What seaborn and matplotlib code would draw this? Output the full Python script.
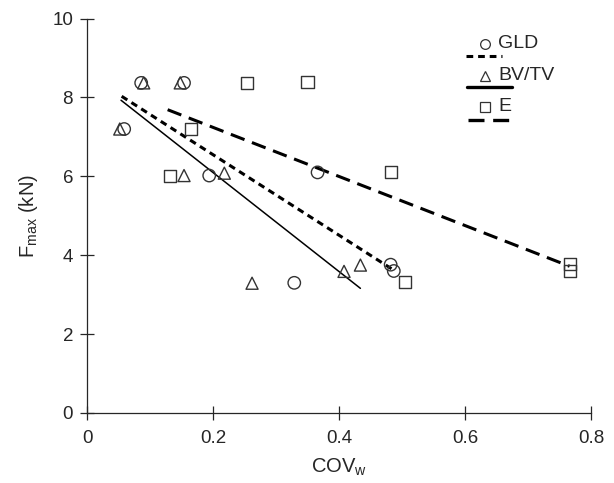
# Fmax vs COV_w scatter with three fitted lines (GLD, BV/TV, E)

import pandas as pd
import numpy as np
import matplotlib
matplotlib.use("Agg")
import matplotlib.pyplot as plt
import seaborn as sns

# -------------------------------------------------------
# DATA
# -------------------------------------------------------

gld_x = [0.086, 0.154, 0.059, 0.194, 0.366, 0.329, 0.482, 0.487]
gld_y = [8.37, 8.37, 7.20, 6.02, 6.10, 3.30, 3.76, 3.60]

bvtv_x = [0.090, 0.148, 0.052, 0.154, 0.218, 0.262, 0.408, 0.434]
bvtv_y = [8.37, 8.37, 7.20, 6.02, 6.08, 3.29, 3.59, 3.75]

e_x = [0.254, 0.350, 0.165, 0.131, 0.482, 0.505, 0.766, 0.766]
e_y = [8.37, 8.38, 7.20, 6.02, 6.10, 3.32, 3.78, 3.60]

# end points of the regression lines
gld_fit_x = [0.055, 0.486]
gld_fit_y = [8.03, 3.63]
bvtv_fit_x = [0.054, 0.434]
bvtv_fit_y = [7.93, 3.16]
e_fit_x = [0.128, 0.766]
e_fit_y = [7.69, 3.72]

x_ticks = [0, 0.2, 0.4, 0.6, 0.8]
x_tick_labels = ["0", "0.2", "0.4", "0.6", "0.8"]
y_ticks = [0, 2, 4, 6, 8, 10]

# -------------------------------------------------------
# STYLE
# -------------------------------------------------------

sns.set_style("ticks")
plt.rcParams["font.family"] = ["Liberation Sans", "DejaVu Sans"]
plt.rcParams["mathtext.fontset"] = "custom"
plt.rcParams["mathtext.rm"] = "Liberation Sans"

fig = plt.figure(figsize=(6.14, 4.83), dpi=100)
ax = fig.add_axes([0.1417, 0.145, 0.8208, 0.8165])

# -------------------------------------------------------
# LINES
# -------------------------------------------------------

sns.lineplot(x=gld_fit_x, y=gld_fit_y, ax=ax, color="black", lw=2.2)
ax.lines[-1].set_dashes((2.2, 1.6))
sns.lineplot(x=bvtv_fit_x, y=bvtv_fit_y, ax=ax, color="black", lw=1.1)
sns.lineplot(x=e_fit_x, y=e_fit_y, ax=ax, color="black", lw=2.2)
ax.lines[-1].set_dashes((4.8, 2.6))

# -------------------------------------------------------
# POINTS
# -------------------------------------------------------

pt_kw = dict(ax=ax, facecolor="none", edgecolor="#333333", linewidth=1.0, zorder=3)
sns.scatterplot(x=gld_x, y=gld_y, marker="o", s=80, **pt_kw)
sns.scatterplot(x=bvtv_x, y=bvtv_y, marker="^", s=75, **pt_kw)
sns.scatterplot(x=e_x, y=e_y, marker="s", s=75, **pt_kw)

# -------------------------------------------------------
# AXES
# -------------------------------------------------------

ax.set_xlim(0, 0.8)
ax.set_ylim(0, 10)
ax.set_xticks(x_ticks)
ax.set_xticklabels(x_tick_labels)
ax.set_yticks(y_ticks)
ax.tick_params(direction="inout", length=10, width=0.9, labelsize=13.5)
ax.tick_params(axis="x", pad=7)
ax.tick_params(axis="y", pad=5)
for side in ["left", "bottom"]:
    ax.spines[side].set_linewidth(0.9)
sns.despine(ax=ax)

ax.set_xlabel(r"COV$_\mathregular{w}$", fontsize=14.5, labelpad=7)
ax.set_ylabel(r"F$_\mathregular{max}$ (kN)", fontsize=14.5, labelpad=9)

# -------------------------------------------------------
# LEGEND (marker + label, line sample underneath)
# -------------------------------------------------------

t = ax.transAxes
def px(xp, yp):
    # figure pixel -> axes fraction
    return ((xp - 87) / 504, (413 - yp) / 394.4)

entries = [("o", "GLD", 44, 56, (2.2, 1.6), 2.2, 466, 502),
           ("^", "BV/TV", 76, 87, None, 2.4, 467, 512),
           ("s", "E", 107, 120, (4.8, 2.6), 2.4, 468, 513)]
for mk, lab, yt, yl, dash, lw, xa, xb in entries:
    ax.plot(*px(485, yt), marker=mk, ms=7 if mk == "o" else 6.5, mfc="none", mec="#333333",
            mew=0.9, transform=t, clip_on=False)
    ax.text(*px(498, yt), lab, fontsize=14, va="center", ha="left", transform=t)
    (x0, y0), (x1, _) = px(xa, yl), px(xb, yl)
    ln, = ax.plot([x0, x1], [y0, y0], color="black", lw=lw, transform=t, clip_on=False)
    if dash is not None:
        ln.set_dashes(dash)

fig.savefig("out.png", dpi=100)
